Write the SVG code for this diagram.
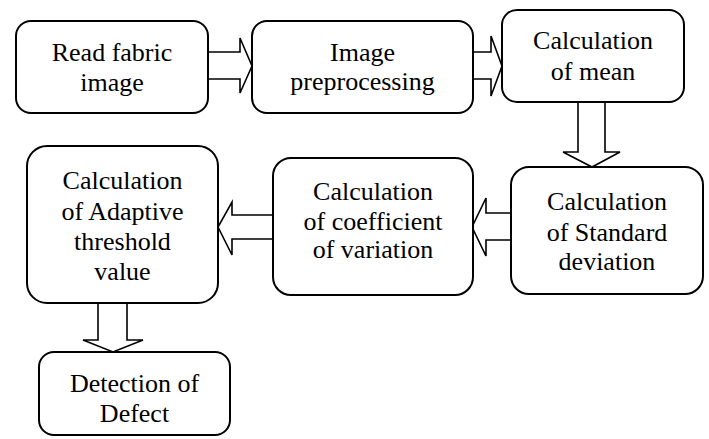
<svg xmlns="http://www.w3.org/2000/svg" width="709" height="439" viewBox="0 0 709 439">
  <rect width="709" height="439" fill="#fff"/>

  <!-- block arrows -->
  <g id="connectors" fill="#fff" stroke="#000" stroke-width="1.6">
    <path d="M208,52 H240 V38 L252,66 L240,93 V79 H208"/>
    <path d="M473,52 H491 V36 L502,66 L491,96 V79 H473"/>
    <path d="M578,102 V152 H563 L592,167 L620,152 H605 V102"/>
    <path d="M511,213 H486 V198 L472,227 L486,256 V240 H511"/>
    <path d="M273,215 H232 V202 L218,227 L232,255 V239 H273"/>
    <path d="M98,303 V340 H83 L113,352 L143,340 H127 V303"/>
  </g>

  <g id="read-image">
    <rect x="16" y="21" width="192" height="92" rx="15" fill="#fff" stroke="#000" stroke-width="2"/>
    <text x="112" y="61" font-family="Liberation Serif" font-size="26" text-anchor="middle">Read fabric</text>
    <text x="112" y="91" font-family="Liberation Serif" font-size="26" text-anchor="middle">image</text>
  </g>
  <g id="preprocessing">
    <rect x="252" y="21" width="221" height="92" rx="15" fill="#fff" stroke="#000" stroke-width="2"/>
    <text x="362.5" y="61" font-family="Liberation Serif" font-size="26" text-anchor="middle">Image</text>
    <text x="362.5" y="90" font-family="Liberation Serif" font-size="26" text-anchor="middle">preprocessing</text>
  </g>
  <g id="mean">
    <rect x="502" y="10" width="182" height="92" rx="15" fill="#fff" stroke="#000" stroke-width="2"/>
    <text x="593" y="49" font-family="Liberation Serif" font-size="26" text-anchor="middle">Calculation</text>
    <text x="593" y="80" font-family="Liberation Serif" font-size="26" text-anchor="middle">of mean</text>
  </g>
  <g id="std-dev">
    <rect x="511" y="167" width="192" height="127" rx="18" fill="#fff" stroke="#000" stroke-width="2"/>
    <text x="607" y="210" font-family="Liberation Serif" font-size="26" text-anchor="middle">Calculation</text>
    <text x="607" y="241" font-family="Liberation Serif" font-size="26" text-anchor="middle">of Standard</text>
    <text x="607" y="270" font-family="Liberation Serif" font-size="26" text-anchor="middle">deviation</text>
  </g>
  <g id="coef-variation">
    <rect x="273" y="158" width="200" height="137" rx="18" fill="#fff" stroke="#000" stroke-width="2"/>
    <text x="373" y="200" font-family="Liberation Serif" font-size="26" text-anchor="middle">Calculation</text>
    <text x="373" y="230" font-family="Liberation Serif" font-size="26" text-anchor="middle">of coefficient</text>
    <text x="373" y="258" font-family="Liberation Serif" font-size="26" text-anchor="middle">of variation</text>
  </g>
  <g id="adaptive-threshold">
    <rect x="27" y="146" width="191" height="157" rx="20" fill="#fff" stroke="#000" stroke-width="2"/>
    <text x="122.5" y="189" font-family="Liberation Serif" font-size="26" text-anchor="middle">Calculation</text>
    <text x="122.5" y="220" font-family="Liberation Serif" font-size="26" text-anchor="middle">of Adaptive</text>
    <text x="122.5" y="250" font-family="Liberation Serif" font-size="26" text-anchor="middle">threshold</text>
    <text x="122.5" y="280" font-family="Liberation Serif" font-size="26" text-anchor="middle">value</text>
  </g>
  <g id="defect-detection">
    <rect x="39" y="352" width="191" height="83" rx="15" fill="#fff" stroke="#000" stroke-width="2"/>
    <text x="134.5" y="392" font-family="Liberation Serif" font-size="26" text-anchor="middle">Detection of</text>
    <text x="134.5" y="422" font-family="Liberation Serif" font-size="26" text-anchor="middle">Defect</text>
  </g>
</svg>
